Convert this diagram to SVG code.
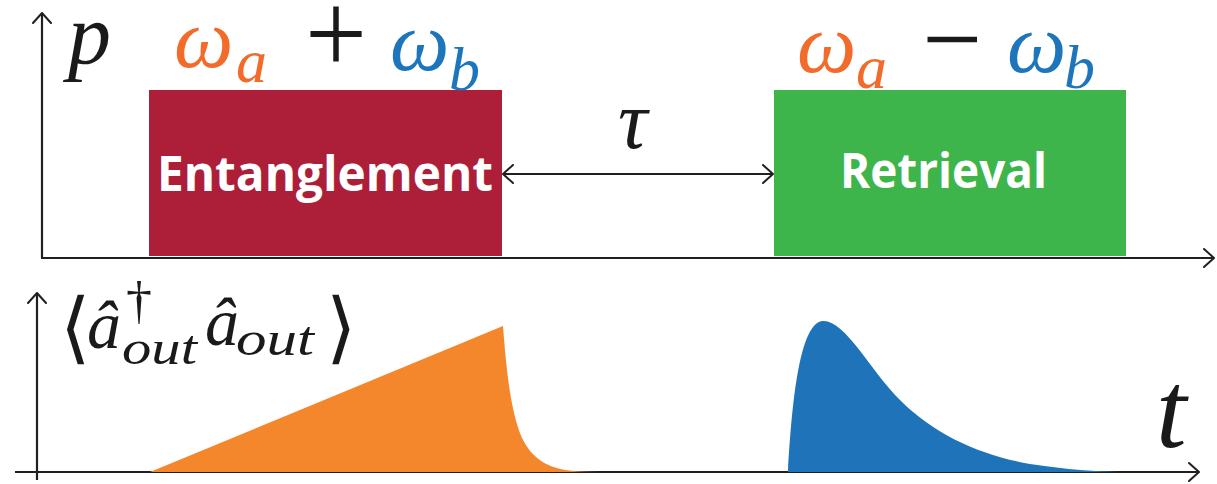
<svg xmlns="http://www.w3.org/2000/svg" width="1217" height="484" viewBox="0 0 1217 484">
<defs>
<style>
.ax{stroke:#231f20;stroke-width:2.2;fill:none}
.head{stroke:#231f20;stroke-width:2;fill:none;stroke-linecap:round;stroke-linejoin:round}
.or{fill:#f26b2a}
.bl{fill:#1d76bc}
.it{font-style:italic}
.lbl{font-family:'Open Sans','Noto Sans',sans-serif;font-weight:bold;fill:#ffffff;font-size:48px}
</style>
<marker id="ah" viewBox="0 0 12 20" refX="11" refY="10" markerWidth="12" markerHeight="20" markerUnits="userSpaceOnUse" orient="auto-start-reverse">
<path d="M1,1 L11,10 L1,19" class="head"/>
</marker>
</defs>
<g id="axes">
<line class="ax" x1="42" y1="258" x2="42" y2="13" marker-end="url(#ah)"/>
<line class="ax" x1="41" y1="258" x2="1214" y2="258" marker-end="url(#ah)"/>
<line class="ax" x1="37" y1="480" x2="37" y2="293" marker-end="url(#ah)"/>
<line class="ax" x1="15" y1="472" x2="1199" y2="472" marker-end="url(#ah)"/>
</g>
<g id="entanglement">
<rect x="149" y="90" width="353" height="166" fill="#ad1e38"/>
<text class="lbl" x="157" y="191" textLength="336" lengthAdjust="spacingAndGlyphs">Entanglement</text>
</g>
<g id="retrieval">
<rect x="774" y="90" width="352" height="166" fill="#3db54a"/>
<text class="lbl" x="840" y="188" textLength="207" lengthAdjust="spacingAndGlyphs">Retrieval</text>
</g>
<g id="connectors">
<line class="ax" x1="503" y1="174" x2="773" y2="174" stroke-width="2" marker-start="url(#ah)" marker-end="url(#ah)"/>
</g>
<g id="labels" font-family="Liberation Serif, DejaVu Serif, serif" fill="#1a1a1a">
<text class="it" x="68" y="63" font-size="86">p</text>
<text class="it or" x="174" y="67" font-size="84">ω</text>
<text class="it or" x="236" y="82" font-size="62">a</text>
<text x="305" y="74" font-size="118" textLength="62" lengthAdjust="spacingAndGlyphs">+</text>
<text class="it bl" x="390" y="70" font-size="84">ω</text>
<text class="it bl" x="449" y="90" font-size="62">b</text>
<text class="it or" x="797" y="72" font-size="84">ω</text>
<text class="it or" x="856" y="88" font-size="62">a</text>
<text x="922" y="76" font-size="110" textLength="60" lengthAdjust="spacingAndGlyphs">−</text>
<text class="it bl" x="1007" y="72" font-size="84">ω</text>
<text class="it bl" x="1064" y="88" font-size="62">b</text>
<text class="it" x="618" y="148" font-size="82">τ</text>
<text class="it" x="1156" y="447" font-size="110">t</text>
<text x="60" y="354" font-family="DejaVu Sans, sans-serif" font-size="78">⟨</text>
<text class="it" x="87" y="348" font-size="68">â</text>
<text x="126" y="318" font-size="52">†</text>
<text class="it" x="122" y="364" font-size="48" textLength="75" lengthAdjust="spacingAndGlyphs">out</text>
<text class="it" x="205" y="345" font-size="68">â</text>
<text class="it" x="236" y="355" font-size="48" textLength="78" lengthAdjust="spacingAndGlyphs">out</text>
<text x="326" y="354" font-family="DejaVu Sans, sans-serif" font-size="78">⟩</text>
</g>
<g id="pulses">
<path d="M150,472 L503,326 C507,380 512,415 522,438 C532,458 545,466 565,470 C580,472 595,472 610,472 Z" fill="#f4862c"/>
<path d="M788,472 C792,400 800,322 823,321 C845,320 870,370 900,400 C935,435 980,455 1030,464 C1070,470 1100,472 1130,472 Z" fill="#1f74b9"/>
</g>
</svg>
